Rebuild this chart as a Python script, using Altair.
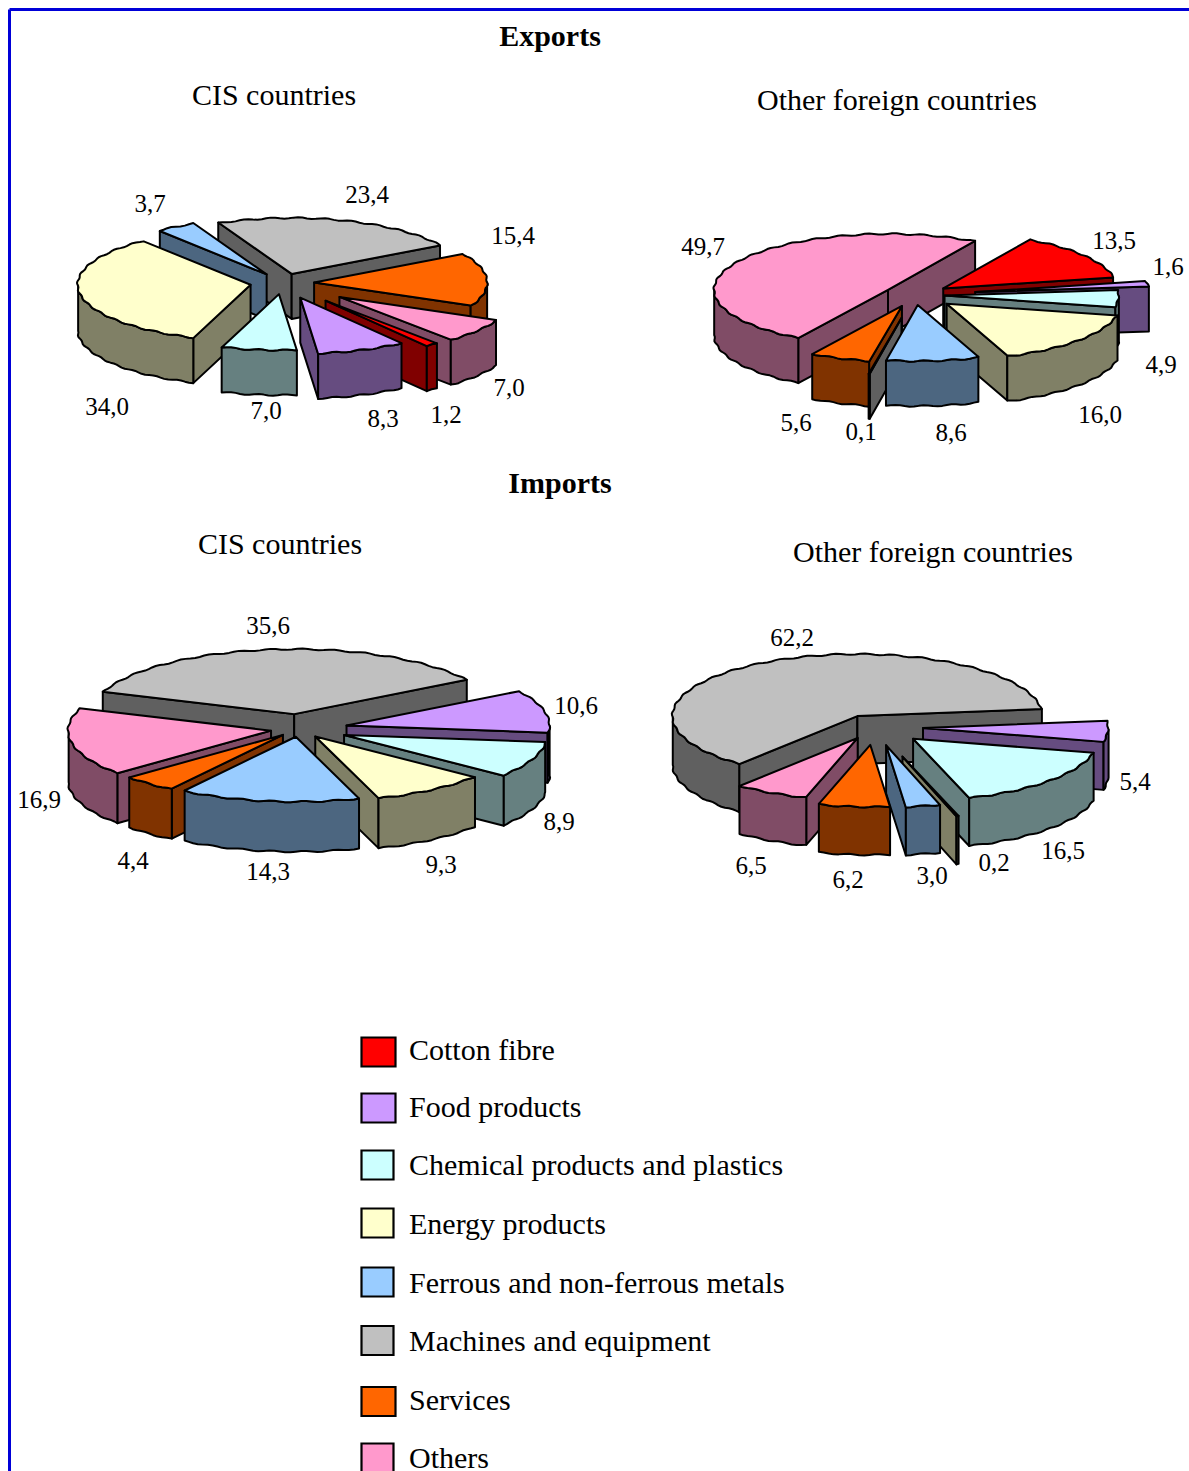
import math

import altair as alt
import pandas as pd

WIDTH, HEIGHT = 1189, 1471

# Shares in per cent, clockwise around each pie
EXPORT_CIS_ORDER = ["Machines", "Services", "Others", "Cotton", "Food", "Chemical", "Energy", "Metals"]
EXPORT_CIS_VALUES = [23.4, 15.4, 7.0, 1.2, 8.3, 7.0, 34.0, 3.7]
EXPORT_OTHER_ORDER = ["Others", "Cotton", "Food", "Chemical", "Energy", "Metals", "Machines", "Services"]
EXPORT_OTHER_VALUES = [49.7, 13.5, 1.6, 4.9, 16.0, 8.6, 0.1, 5.6]
IMPORT_CIS_ORDER = ["Machines", "Food", "Chemical", "Energy", "Metals", "Services", "Others"]
IMPORT_CIS_VALUES = [35.6, 10.6, 8.9, 9.3, 14.3, 4.4, 16.9]
IMPORT_OTHER_ORDER = ["Machines", "Food", "Chemical", "Energy", "Metals", "Services", "Others"]
IMPORT_OTHER_VALUES = [62.2, 5.4, 16.5, 0.2, 3.0, 6.2, 6.5]

LEGEND_KEYS = ["Cotton", "Food", "Chemical", "Energy", "Metals", "Machines", "Services", "Others"]
LEGEND_LABELS = [
    "Cotton fibre",
    "Food products",
    "Chemical products and plastics",
    "Energy products",
    "Ferrous and non-ferrous metals",
    "Machines and equipment",
    "Services",
    "Others",
]

# Top-face colour and the darker shade used on walls
TOP_COLOURS = {
    "Cotton": "#ff0000", "Food": "#cc99ff", "Chemical": "#ccffff", "Energy": "#ffffcc",
    "Metals": "#99ccff", "Machines": "#c0c0c0", "Services": "#ff6600", "Others": "#ff99cc",
}
SIDE_COLOURS = {
    "Cotton": "#800000", "Food": "#664c80", "Chemical": "#668080", "Energy": "#808066",
    "Metals": "#4c6680", "Machines": "#606060", "Services": "#803300", "Others": "#804c66",
}

# Pie geometry: centre, radii, wall depth, start angle (clockwise from north),
# per-slice explosion as a fraction of the radius, and label anchors per slice.
PIES = [
    dict(values=EXPORT_CIS_VALUES, order=EXPORT_CIS_ORDER, cx=283, cy=283, rx=173, ry=56, depth=45, start=-25,
         explode=[0.17, 0.18, 0.41, 0.40, 0.28, 0.20, 0.19, 0.18], paint_first=[],
         labels=[(367, 195), (513, 236), (509, 388), (446, 415), (383, 419), (266, 411), (107, 407), (150, 204)]),
    dict(values=EXPORT_OTHER_VALUES, order=EXPORT_OTHER_ORDER, cx=915, cy=295, rx=174, ry=56, depth=45, start=211,
         explode=[0.18, 0.20, 0.35, 0.17, 0.24, 0.18, 0.42, 0.21], paint_first=["Others"],
         labels=[(703, 247), (1114, 241), (1168, 267), (1161, 365), (1100, 415), (951, 433), (861, 432), (796, 423)]),
    dict(values=IMPORT_CIS_VALUES, order=IMPORT_CIS_ORDER, cx=299, cy=729, rx=203, ry=65, depth=50, start=290,
         explode=[0.23, 0.24, 0.24, 0.14, 0.12, 0.12, 0.14], paint_first=[],
         labels=[(268, 626), (576, 706), (559, 822), (441, 865), (268, 872), (133, 861), (39, 800)]),
    dict(values=IMPORT_OTHER_VALUES, order=IMPORT_OTHER_ORDER, cx=875, cy=727, rx=185, ry=62, depth=48, start=219.6,
         explode=[0.20, 0.26, 0.28, 0.50, 0.30, 0.29, 0.20], paint_first=[],
         labels=[(792, 638), (1135, 782), (1063, 851), (994, 863), (932, 876), (848, 880), (751, 866)]),
]

HEADINGS = [
    ("Exports", 550, 37, "bold"),
    ("CIS countries", 274, 96, "normal"),
    ("Other foreign countries", 897, 101, "normal"),
    ("Imports", 560, 484, "bold"),
    ("CIS countries", 280, 545, "normal"),
    ("Other foreign countries", 933, 553, "normal"),
]

LEGEND_BOX_Y = [1052, 1108, 1165, 1223, 1282, 1340.5, 1401.5, 1458]
LEGEND_TEXT_Y = [1051, 1108, 1166, 1225, 1284, 1342, 1401, 1459]
LEGEND_SWATCH_W = [34, 34, 32, 32, 32, 32, 34, 32]

# The rim of each pie carries a slight scallop, in pixels along the outward normal
RIM_BUMP = 0.7
RIM_BUMP_FREQ = 40


def rim(pie, ax, ay, deg, drop=0.0):
    a = math.radians(deg)
    bump = RIM_BUMP * math.sin(math.radians(deg * RIM_BUMP_FREQ))
    x = ax + (pie["rx"] + bump) * math.sin(a)
    y = ay - (pie["ry"] + bump) * math.cos(a) + drop
    return x, y


def build_faces():
    rows = []
    face_no = 0

    def add_face(points, fill):
        nonlocal face_no
        for i, (x, y) in enumerate(points):
            rows.append(dict(face=f"f{face_no:03d}", idx=i, x=x, y=y, fill=fill))
        face_no += 1

    for pie in PIES:
        slices = []
        angle = pie["start"]
        for name, value, e in zip(pie["order"], pie["values"], pie["explode"]):
            sweep = value * 3.6
            slices.append((name, angle, angle + sweep, e))
            angle += sweep
        # Paint from the far side of the pie towards the viewer
        slices.sort(
            key=lambda s: (
                s[0] not in pie["paint_first"],
                -math.cos(math.radians((s[1] + s[2]) / 2)),
            )
        )
        for name, a0, a1, e in slices:
            mid = math.radians((a0 + a1) / 2)
            ax = pie["cx"] + e * pie["rx"] * math.sin(mid)
            ay = pie["cy"] - e * pie["ry"] * math.cos(mid)
            d = pie["depth"]
            steps = max(2, int((a1 - a0) / 1.5))
            angles = [a0 + (a1 - a0) * i / steps for i in range(steps + 1)]
            side = SIDE_COLOURS[name]
            # Radial walls that face the viewer
            if math.sin(math.radians(a0)) < 0:
                p = rim(pie, ax, ay, a0)
                add_face([(ax, ay), p, (p[0], p[1] + d), (ax, ay + d)], side)
            if math.sin(math.radians(a1)) > 0:
                p = rim(pie, ax, ay, a1)
                add_face([(ax, ay), p, (p[0], p[1] + d), (ax, ay + d)], side)
            # Curved outer wall on the front half of the ellipse
            front = [t for t in angles if math.cos(math.radians(t)) < 0]
            if len(front) >= 2:
                upper = [rim(pie, ax, ay, t) for t in front]
                lower = [rim(pie, ax, ay, t, d) for t in reversed(front)]
                add_face(upper + lower, side)
            add_face([(ax, ay)] + [rim(pie, ax, ay, t) for t in angles], TOP_COLOURS[name])
    return pd.DataFrame(rows)


faces = build_faces()

value_rows = []
for pie in PIES:
    for v, (lx, ly) in zip(pie["values"], pie["labels"]):
        value_rows.append(dict(x=lx, y=ly, text=f"{v:.1f}".replace(".", ",")))
value_labels = pd.DataFrame(value_rows)

headings = pd.DataFrame(HEADINGS, columns=["text", "x", "y", "weight"])

swatches = pd.DataFrame(
    [
        dict(x=361.5, x2=361.5 + w, y=yb - 14.5, y2=yb + 14.5, fill=TOP_COLOURS[k], text=t, tx=409, ty=yt)
        for k, t, yb, yt, w in zip(LEGEND_KEYS, LEGEND_LABELS, LEGEND_BOX_Y, LEGEND_TEXT_Y, LEGEND_SWATCH_W)
    ]
)

frame = pd.DataFrame(
    [
        dict(x=9.5, y=9.5, x2=WIDTH, y2=9.5),
        dict(x=9.5, y=9.5, x2=9.5, y2=HEIGHT),
    ]
)

FONT = "Liberation Serif"
X = alt.X("x:Q", scale=alt.Scale(domain=[0, WIDTH]), axis=None)
Y = alt.Y("y:Q", scale=alt.Scale(domain=[HEIGHT, 0]), axis=None)

border = alt.Chart(frame).mark_rule(color="#0000d8", strokeWidth=3).encode(x=X, y=Y, x2="x2:Q", y2="y2:Q")

solids = (
    alt.Chart(faces)
    .mark_line(interpolate="linear-closed", stroke="black", strokeWidth=2, strokeJoin="round", clip=False)
    .encode(x=X, y=Y, detail="face:N", order="idx:Q", fill=alt.Fill("fill:N", scale=None))
)

value_text = (
    alt.Chart(value_labels)
    .mark_text(font=FONT, fontSize=25, color="black", align="center", baseline="middle")
    .encode(x=X, y=Y, text="text:N")
)

heading_normal = (
    alt.Chart(headings[headings.weight == "normal"])
    .mark_text(font=FONT, fontSize=30, color="black", align="center", baseline="middle")
    .encode(x=X, y=Y, text="text:N")
)
heading_bold = (
    alt.Chart(headings[headings.weight == "bold"])
    .mark_text(font=FONT, fontSize=30, fontWeight="bold", color="black", align="center", baseline="middle")
    .encode(x=X, y=Y, text="text:N")
)

legend_boxes = (
    alt.Chart(swatches)
    .mark_rect(stroke="black", strokeWidth=2.2)
    .encode(x=X, y=Y, x2="x2:Q", y2="y2:Q", fill=alt.Fill("fill:N", scale=None))
)
legend_text = (
    alt.Chart(swatches)
    .mark_text(font=FONT, fontSize=30, color="black", align="left", baseline="middle")
    .encode(
        x=alt.X("tx:Q", scale=alt.Scale(domain=[0, WIDTH]), axis=None),
        y=alt.Y("ty:Q", scale=alt.Scale(domain=[HEIGHT, 0]), axis=None),
        text="text:N",
    )
)

chart = (
    alt.layer(border, solids, value_text, heading_normal, heading_bold, legend_boxes, legend_text)
    .properties(width=WIDTH, height=HEIGHT, padding=0, autosize=alt.AutoSizeParams(type="none"), background="white")
    .configure_view(stroke=None)
)

chart.save("out.html", embed_options={"renderer": "svg", "actions": False})
